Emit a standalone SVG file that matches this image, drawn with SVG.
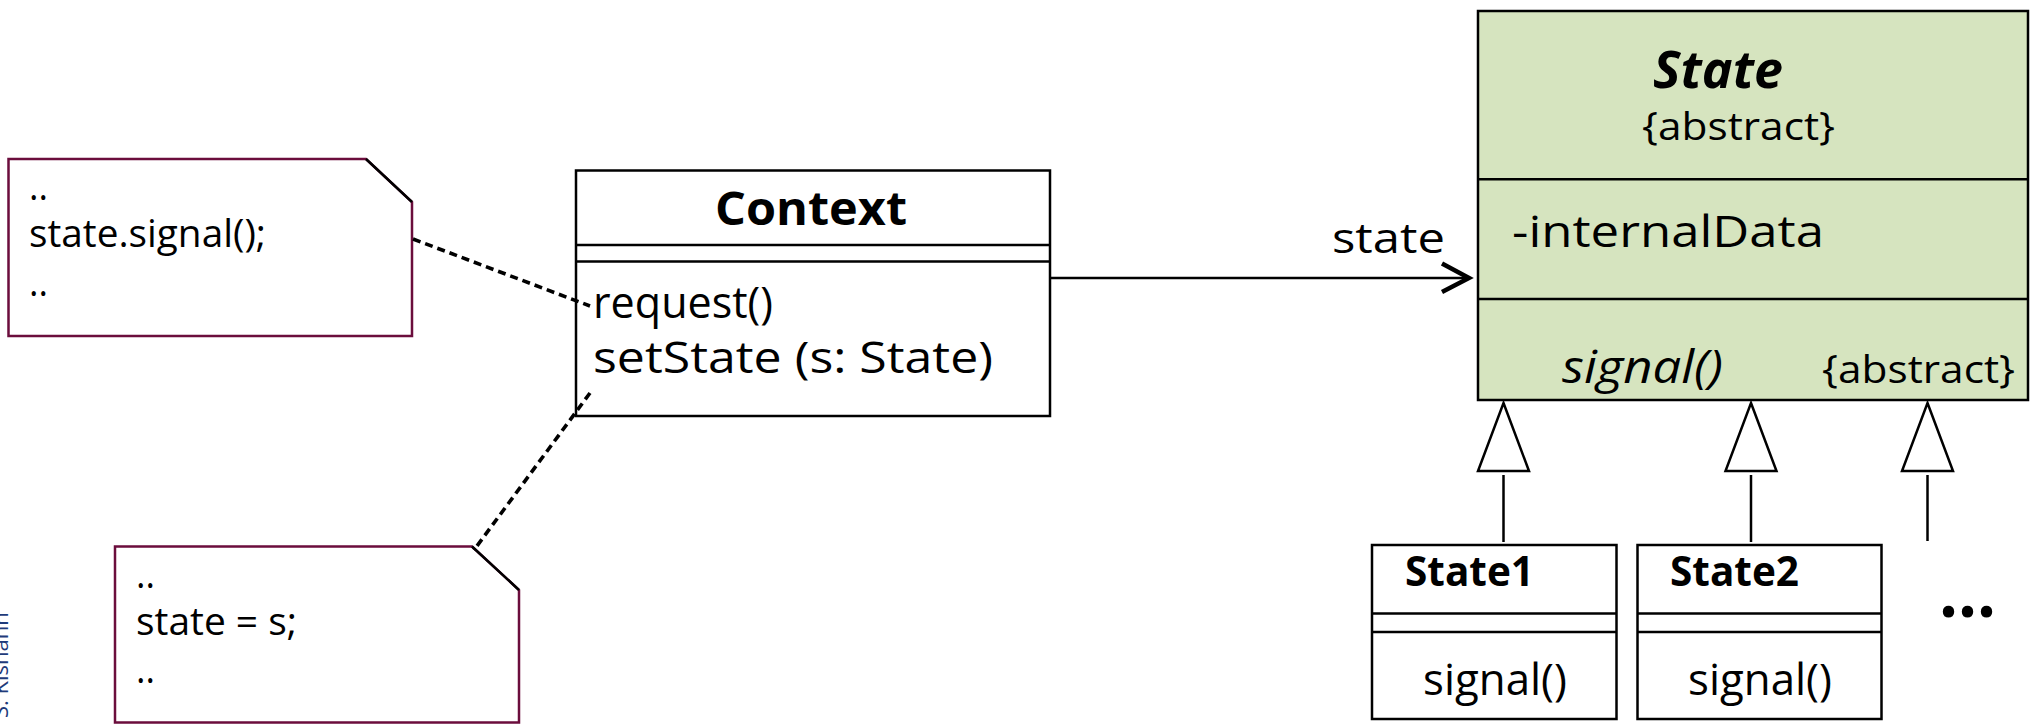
<svg xmlns="http://www.w3.org/2000/svg" width="2034" height="724" viewBox="0 0 2034 724">
<style>
text{font-family:"Open Sans","Liberation Sans",sans-serif;fill:#000}
.box{fill:#fff;stroke:#000;stroke-width:2.5}
.green{fill:#d6e4bf;stroke:#000;stroke-width:2.5}
.sep{stroke:#000;stroke-width:2.5}
.note{fill:#fff;stroke:#6b0d3c;stroke-width:2.5}
.corner{stroke:#000;stroke-width:2.5;fill:none}
.dot{stroke:#000;stroke-width:3.6;stroke-dasharray:8 5;fill:none}
.gen{fill:#fff;stroke:#000;stroke-width:2.5}
.ln{stroke:#000;stroke-width:2.5;fill:none}
.n{font-size:38px}
.m{font-size:44px}
</style>
<g id="copyright">
<text transform="translate(8,718) rotate(-90)" style="font-size:22px;fill:#1f3b7a">S. Kishahn</text>
</g>
<g id="note1">
<path class="note" d="M8.5,159 H366 L412,202 V336 H8.5 Z"/>
<path class="corner" d="M366,159 L412,202"/>
<text class="n" x="29" y="200" textLength="19" lengthAdjust="spacingAndGlyphs">..</text>
<text class="n" x="29" y="247" textLength="237" lengthAdjust="spacingAndGlyphs">state.signal();</text>
<text class="n" x="29" y="296" textLength="19" lengthAdjust="spacingAndGlyphs">..</text>
</g>
<g id="note2">
<path class="note" d="M115,546.5 H472 L519,590 V722.5 H115 Z"/>
<path class="corner" d="M472,546.5 L519,590"/>
<text class="n" x="136" y="588" textLength="19" lengthAdjust="spacingAndGlyphs">..</text>
<text class="n" x="136" y="635" textLength="161" lengthAdjust="spacingAndGlyphs">state = s;</text>
<text class="n" x="136" y="683" textLength="19" lengthAdjust="spacingAndGlyphs">..</text>
</g>
<g id="context">
<rect class="box" x="576" y="170.5" width="474" height="245.5"/>
<line class="sep" x1="576" y1="245" x2="1050" y2="245"/>
<line class="sep" x1="576" y1="261.5" x2="1050" y2="261.5"/>
<text x="811" y="225" text-anchor="middle" style="font-size:46px;font-weight:bold" textLength="192" lengthAdjust="spacingAndGlyphs">Context</text>
<text class="m" x="593" y="318" textLength="180" lengthAdjust="spacingAndGlyphs">request()</text>
<text class="m" x="593" y="373" textLength="400" lengthAdjust="spacingAndGlyphs">setState (s: State)</text>
</g>
<g id="state">
<rect class="green" x="1478" y="11" width="550" height="389"/>
<line class="sep" x1="1478" y1="179.3" x2="2028" y2="179.3"/>
<line class="sep" x1="1478" y1="299" x2="2028" y2="299"/>
<text x="1653" y="88" style="font-size:52px;font-weight:bold;font-style:italic" textLength="130" lengthAdjust="spacingAndGlyphs">State</text>
<text x="1642" y="140" style="font-size:38px" textLength="193" lengthAdjust="spacingAndGlyphs">{abstract}</text>
<text class="m" x="1512" y="247" textLength="312" lengthAdjust="spacingAndGlyphs">-internalData</text>
<text x="1562" y="383" style="font-size:45px;font-style:italic" textLength="161" lengthAdjust="spacingAndGlyphs">signal()</text>
<text x="1822" y="383" style="font-size:39px" textLength="193" lengthAdjust="spacingAndGlyphs">{abstract}</text>
</g>
<g id="state1">
<rect class="box" x="1372" y="545" width="244.5" height="174"/>
<line class="sep" x1="1372" y1="613.5" x2="1616.5" y2="613.5"/>
<line class="sep" x1="1372" y1="632" x2="1616.5" y2="632"/>
<text x="1405" y="586" style="font-size:42px;font-weight:bold" textLength="129" lengthAdjust="spacingAndGlyphs">State1</text>
<text x="1423" y="695" style="font-size:43px" textLength="144" lengthAdjust="spacingAndGlyphs">signal()</text>
</g>
<g id="state2">
<rect class="box" x="1637.5" y="545" width="244" height="174"/>
<line class="sep" x1="1637.5" y1="613.5" x2="1881.5" y2="613.5"/>
<line class="sep" x1="1637.5" y1="632" x2="1881.5" y2="632"/>
<text x="1670" y="586" style="font-size:42px;font-weight:bold" textLength="129" lengthAdjust="spacingAndGlyphs">State2</text>
<text x="1688" y="695" style="font-size:43px" textLength="144" lengthAdjust="spacingAndGlyphs">signal()</text>
</g>
<g id="more">
<text x="1939" y="617" style="font-size:70px;font-weight:bold" textLength="57" lengthAdjust="spacingAndGlyphs">...</text>
</g>
<g id="connectors">
<line class="dot" x1="413" y1="239" x2="590" y2="306"/>
<line class="dot" x1="590" y1="393" x2="474" y2="550"/>
<line class="ln" x1="1050" y1="278" x2="1468" y2="278"/>
<path d="M1442,263.5 L1469,278 L1442,292" style="fill:none;stroke:#000;stroke-width:4.5"/>
<text x="1332" y="253" style="font-size:42px" textLength="113" lengthAdjust="spacingAndGlyphs">state</text>
<path class="gen" d="M1503.5,403 L1529,471 H1478 Z"/>
<line class="ln" x1="1503.5" y1="475" x2="1503.5" y2="542"/>
<path class="gen" d="M1751,403 L1776.5,471 H1725.5 Z"/>
<line class="ln" x1="1751" y1="475" x2="1751" y2="542"/>
<path class="gen" d="M1927.5,403 L1953,471 H1902 Z"/>
<line class="ln" x1="1927.5" y1="475" x2="1927.5" y2="541"/>
</g>
</svg>
